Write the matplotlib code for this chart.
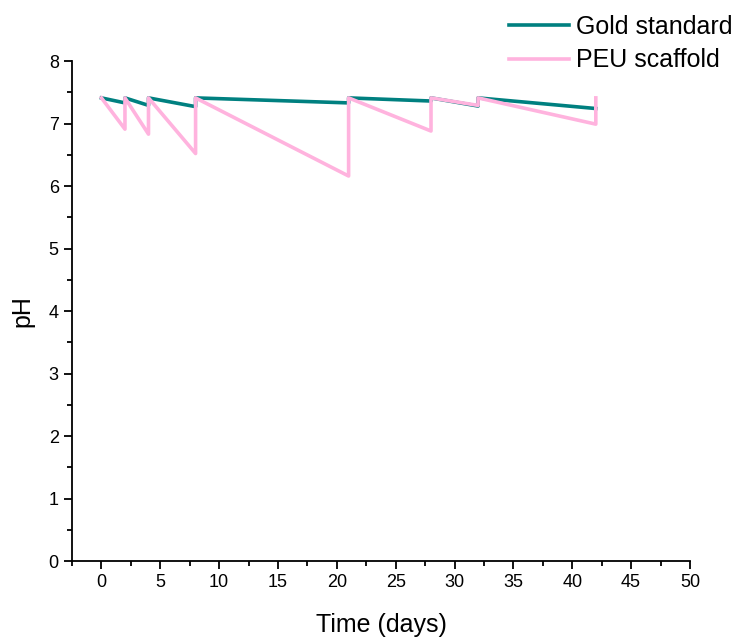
import numpy as np
import matplotlib.pyplot as plt
from matplotlib.ticker import MultipleLocator

plt.rcParams['font.family'] = ['Liberation Sans', 'DejaVu Sans']

# medium changed at days 0, 2, 4, 8, 21, 28, 32, 42
t_gold = [0, 2, 2, 4, 4, 8, 8, 21, 21, 28, 28, 32, 32, 42]
ph_gold = [7.41, 7.33, 7.41, 7.29, 7.41, 7.27, 7.41, 7.33, 7.41, 7.36, 7.41, 7.28, 7.41, 7.24]

t_peu = [0, 2, 2, 4, 4, 8, 8, 21, 21, 28, 28, 32, 32, 42, 42]
ph_peu = [7.41, 6.91, 7.41, 6.83, 7.41, 6.52, 7.41, 6.16, 7.41, 6.88, 7.41, 7.29, 7.41, 6.99, 7.41]

fig = plt.figure(figsize=(7.53, 6.41), dpi=100)
ax = fig.add_axes([0.0956, 0.1248, 0.8207, 0.78])

ax.plot(t_gold, ph_gold, color='#008080', lw=2.6, label='Gold standard')
ax.plot(t_peu, ph_peu, color='#ffb3de', lw=2.6, label='PEU scaffold')

ax.set_xlim(-2.5, 50)
ax.set_ylim(0, 8)
ax.xaxis.set_major_locator(MultipleLocator(5))
ax.xaxis.set_minor_locator(MultipleLocator(2.5))
ax.yaxis.set_major_locator(MultipleLocator(1))
ax.yaxis.set_minor_locator(MultipleLocator(0.5))
ax.tick_params(which='major', length=6, width=1.3, labelsize=13)
ax.tick_params(which='minor', length=3.5, width=1.3)
ax.spines['top'].set_visible(False)
ax.spines['right'].set_visible(False)
ax.spines['left'].set_linewidth(1.3)
ax.spines['bottom'].set_linewidth(1.3)

ax.set_xlabel('Time (days)', fontsize=18, labelpad=16)
ax.set_ylabel('pH', fontsize=18, labelpad=10)

fig.legend(loc='upper right', bbox_to_anchor=(1.003, 1.012), frameon=False,
           fontsize=18, handlelength=2.4, labelspacing=0.38, handletextpad=0.3)

fig.savefig('out.png', dpi=100)
